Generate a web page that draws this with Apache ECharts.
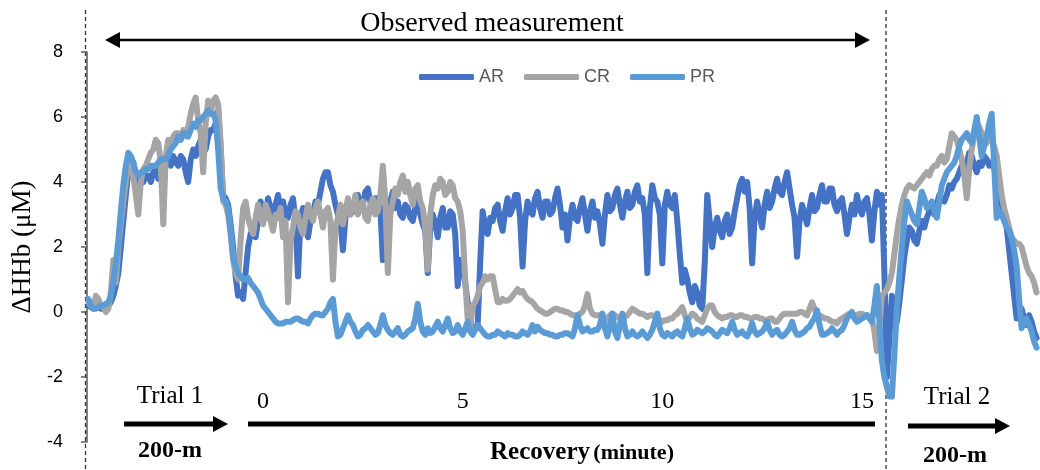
<!DOCTYPE html>
<html><head><meta charset="utf-8">
<script src="https://cdn.jsdelivr.net/npm/echarts@6/dist/echarts.min.js"></script>
<style>html,body{margin:0;padding:0;background:#fff}#c{width:1040px;height:470px}</style>
</head><body><div id="c"></div>
<script>
// sampling grid (minutes relative to start of recovery)
const startMinute = -4.375;
const stepMinute = 0.0625;
const seriesNames = ['AR', 'CR', 'PR'];
const yTicks = [-4, -2, 0, 2, 4, 6, 8];
const recoveryTicks = [0, 5, 10, 15];

const AR = [
  0.2,0.15, 0.1,0.2, 0.15,0.1, 0.1,0.15, 0.2,0.3, 0.5,0.8, 1.2,2.0, 2.8,3.6, 4.3,4.5, 4.6,4.2,
  3.8,4.1, 4.0,4.2, 4.2,4.0, 4.3,4.4, 4.1,4.4, 4.5,4.6, 4.7,4.5, 4.8,4.6, 4.5,4.8, 4.7,4.3,
  4.0,4.7, 5.0,4.8, 5.1,5.3, 5.3,5.0, 5.4,5.6, 5.6,5.8, 6.2,5.0, 3.6,3.5, 3.3,2.7, 2.0,1.1,
  0.5,0.6, 0.4,1.2, 2.0,2.4, 2.6,2.3, 2.8,3.4, 3.2,2.9, 3.5,3.2, 3.0,3.3, 3.6,3.1, 3.4,3.0,
  2.9,3.3, 3.5,2.8, 1.1,2.9, 3.2,2.7, 2.3,2.8, 3.0,3.4, 3.3,3.7, 4.1,4.3, 4.3,3.9, 3.7,3.3,
  3.0,2.8, 1.9,2.9, 3.4,3.0, 3.1,3.5, 3.6,3.2, 3.3,3.7, 3.8,3.4, 3.1,3.5, 3.5,3.2, 1.6,3.0,
  3.0,3.4, 3.7,3.2, 3.4,3.0, 2.9,3.3, 3.2,2.9, 2.8,3.2, 3.4,3.0, 2.7,2.5, 1.2,2.6, 3.0,2.7,
  2.3,2.9, 3.2,2.6, 2.6,3.1, 3.0,2.4, 0.8,1.6, 1.5,0.9, 0.3,-0.3, -0.5,-0.5, -0.4,1.5, 3.1,2.6,
  2.4,2.9, 2.8,3.2, 3.3,2.8, 2.5,3.1, 3.5,3.0, 3.2,3.6, 3.6,2.9, 1.4,2.8, 3.4,3.1, 3.0,3.5,
  3.7,3.2, 2.9,3.4, 3.4,3.0, 3.1,3.5, 3.8,3.3, 2.6,3.0, 2.2,2.9, 3.3,2.9, 2.8,3.2, 3.5,3.0,
  2.5,3.1, 3.4,2.9, 3.1,2.7, 2.1,3.0, 3.6,3.1, 3.2,3.6, 3.8,3.3, 2.9,3.4, 3.7,3.2, 3.3,3.7,
  3.9,3.4, 3.5,3.0, 1.2,3.2, 3.9,3.5, 3.4,3.0, 1.5,3.3, 3.7,3.3, 3.2,3.6, 2.8,1.8, 0.9,1.3,
  1.0,0.6, 0.3,0.8, 0.6,0.2, 0.1,1.5, 3.6,2.8, 2.0,2.6, 2.9,2.5, 2.3,2.8, 3.0,2.4, 2.6,3.1,
  3.5,3.9, 4.1,3.7, 4.0,3.2, 1.5,2.9, 3.4,3.0, 2.6,3.3, 3.7,3.2, 3.4,3.8, 4.1,3.7, 3.6,4.0,
  4.3,3.8, 3.3,2.9, 1.7,2.8, 3.3,3.0, 2.7,3.2, 3.6,3.1, 3.2,3.6, 3.9,3.4, 3.4,3.8, 3.8,3.3,
  3.1,3.4, 3.5,3.0, 2.4,2.9, 3.3,3.0, 3.6,3.2, 3.0,3.4, 3.5,3.0, 2.2,3.1, 3.7,3.3, 3.6,1.2,
  -2.0,-0.8, 0.5,0.1, -0.3,0.3, 1.0,1.7, 2.2,2.6, 2.5,2.2, 2.1,2.5, 2.8,2.6, 2.9,3.1, 3.2,3.0,
  3.3,3.6, 3.5,3.4, 3.6,3.9, 3.8,4.0, 4.1,4.3, 4.5,4.3, 4.6,4.9, 4.8,4.5, 4.3,4.6, 4.5,4.8,
  4.7,4.5, 4.6,4.4, 4.2,3.8, 3.3,3.0, 2.6,1.9, 1.2,0.5, -0.2,-0.1, 0.1,-0.2, -0.4,-0.1, -0.3,-0.6,
  -0.8
];
const CR = [
  0.3,0.2, 0.1,0.5, 0.4,0.2, 0.15,0.0, 0.1,0.6, 1.6,0.9, 2.0,2.7, 3.4,4.0, 4.5,4.6, 4.2,3.6,
  3.0,4.0, 4.4,4.5, 4.7,4.9, 5.0,5.3, 5.2,4.6, 2.7,4.8, 5.3,5.1, 5.4,5.5, 5.5,5.3, 5.6,5.4,
  5.7,6.1, 6.4,6.6, 5.9,5.5, 4.3,5.8, 6.5,6.1, 6.5,6.6, 6.4,5.2, 3.4,3.3, 3.0,2.4, 1.6,1.2,
  1.0,2.2, 3.2,3.4, 2.9,2.6, 2.4,2.9, 3.3,2.9, 2.7,3.3, 3.1,2.8, 2.5,3.0, 2.9,3.2, 2.3,2.8,
  0.3,2.2, 2.6,3.1, 3.0,2.6, 2.4,2.9, 3.3,3.0, 2.8,3.2, 3.4,3.0, 2.6,3.1, 3.2,2.8, 1.0,2.6,
  2.9,3.3, 2.7,3.1, 3.5,3.0, 3.2,3.6, 3.0,3.3, 3.4,2.9, 2.8,3.3, 3.5,3.0, 3.1,3.6, 4.5,3.4,
  1.2,3.0, 3.4,3.8, 3.6,4.0, 4.2,3.7, 4.0,3.6, 3.3,3.8, 3.9,3.4, 3.2,2.6, 1.3,3.0, 3.6,3.9,
  3.8,4.1, 4.0,3.6, 3.7,4.0, 3.9,3.5, 3.4,3.1, 2.5,1.0, -0.2,-0.5, 0.2,0.3, 0.5,0.8, 0.9,1.1,
  1.0,1.1, 1.1,0.7, 0.3,0.3, 0.4,0.35, 0.35,0.4, 0.5,0.6, 0.7,0.6, 0.65,0.5, 0.4,0.35, 0.3,0.2,
  0.1,0.05, 0.0,-0.05, -0.05,0.0, 0.05,0.1, 0.1,0.05, 0.05,0.0, 0.0,-0.05, -0.1,-0.1, -0.15,-0.05, 0.0,0.2,
  0.55,0.1, -0.05,-0.1, -0.1,-0.1, -0.15,-0.2, -0.2,-0.1, -0.05,-0.1, -0.15,-0.2, -0.25,-0.15, -0.1,0.0, 0.1,0.05,
  0.0,-0.05, -0.05,-0.1, -0.15,-0.1, -0.1,-0.15, -0.2,-0.25, -0.3,-0.25, -0.25,-0.2, -0.2,-0.1, -0.05,0.05, 0.15,-0.1,
  -0.3,-0.15, -0.05,-0.1, -0.2,-0.25, -0.3,-0.1, 0.1,0.2, 0.2,0.0, -0.1,-0.15, -0.2,-0.15, -0.15,-0.1, -0.1,-0.15,
  -0.15,-0.1, -0.1,-0.15, -0.15,-0.2, -0.2,-0.15, -0.15,-0.2, -0.2,-0.25, -0.25,-0.2, -0.2,-0.3, -0.3,-0.2, -0.1,-0.05,
  -0.05,-0.05, -0.05,-0.05, -0.05,0.0, 0.0,-0.05, -0.1,0.1, 0.3,0.1, -0.1,-0.1, -0.15,-0.2, -0.2,-0.25, -0.3,-0.3,
  -0.35,-0.25, -0.2,-0.15, -0.1,-0.05, -0.05,-0.1, -0.1,-0.05, -0.05,-0.1, -0.1,-0.15, -0.2,-0.6, -1.2,-0.5, 0.5,0.6,
  0.7,0.9, 1.2,1.8, 2.4,2.9, 3.3,3.6, 3.8,3.9, 3.85,3.8, 3.9,4.0, 4.1,4.2, 4.3,4.2, 4.4,4.5,
  4.5,4.7, 4.8,4.6, 4.7,5.1, 5.5,5.4, 5.3,5.0, 4.7,4.2, 3.5,4.4, 5.0,5.4, 5.6,5.7, 5.5,5.3,
  5.2,5.4, 5.3,5.1, 4.8,4.2, 3.6,3.2, 2.9,2.6, 2.3,2.2, 2.1,2.1, 2.0,1.7, 1.4,1.2, 1.1,0.9,
  0.6
];
const PR = [
  0.4,0.2, 0.1,0.1, 0.15,0.2, 0.2,0.25, 0.3,0.5, 0.9,1.5, 2.2,3.1, 3.9,4.5, 4.9,4.8, 4.6,4.3,
  4.2,4.3, 4.3,4.4, 4.4,4.5, 4.5,4.5, 4.6,4.7, 4.7,4.7, 4.8,5.0, 5.1,5.2, 5.4,5.3, 5.5,5.5,
  5.4,5.6, 5.8,5.7, 5.9,5.9, 6.0,6.1, 6.2,6.1, 6.1,5.9, 5.0,3.8, 3.5,3.4, 3.2,2.5, 1.7,1.4,
  1.2,1.1, 1.0,1.0, 1.05,0.9, 0.8,0.7, 0.6,0.4, 0.2,0.1, 0.0,-0.1, -0.2,-0.3, -0.35,-0.35, -0.35,-0.3,
  -0.3,-0.3, -0.25,-0.2, -0.2,-0.25, -0.3,-0.3, -0.35,-0.2, -0.1,-0.05, -0.05,-0.1, -0.1,0.0, 0.1,0.3, 0.4,-0.3,
  -0.75,-0.7, -0.5,-0.3, -0.1,-0.3, -0.4,-0.6, -0.75,-0.7, -0.55,-0.5, -0.4,-0.5, -0.6,-0.7, -0.65,-0.4, -0.1,-0.4,
  -0.55,-0.65, -0.7,-0.6, -0.5,-0.7, -0.75,-0.7, -0.6,-0.55, -0.5,-0.2, 0.25,-0.3, -0.6,-0.7, -0.5,-0.65, -0.6,-0.45,
  -0.3,-0.5, -0.6,-0.4, -0.2,-0.5, -0.65,-0.6, -0.4,-0.6, -0.7,-0.5, -0.3,-0.6, -0.7,-0.55, -0.4,-0.5, -0.6,-0.7,
  -0.75,-0.75, -0.7,-0.7, -0.6,-0.65, -0.7,-0.75, -0.65,-0.7, -0.7,-0.75, -0.75,-0.7, -0.6,-0.65, -0.7,-0.6, -0.4,-0.6,
  -0.45,-0.55, -0.6,-0.65, -0.65,-0.7, -0.7,-0.75, -0.75,-0.7, -0.7,-0.65, -0.65,-0.7, -0.75,-0.5, -0.1,-0.4, -0.6,-0.55,
  -0.5,-0.6, -0.6,-0.55, -0.55,-0.4, -0.05,-0.5, -0.75,-0.4, -0.05,-0.6, -0.8,-0.4, -0.05,-0.5, -0.75,-0.7, -0.6,-0.7,
  -0.75,-0.7, -0.6,-0.7, -0.8,-0.7, -0.55,-0.3, -0.05,-0.5, -0.7,-0.75, -0.65,-0.7, -0.75,-0.65, -0.6,-0.7, -0.75,-0.5,
  -0.2,-0.5, -0.7,-0.65, -0.55,-0.6, -0.65,-0.6, -0.5,-0.55, -0.6,-0.7, -0.75,-0.65, -0.55,-0.6, -0.65,-0.5, -0.3,-0.55,
  -0.7,-0.65, -0.6,-0.7, -0.75,-0.6, -0.35,-0.6, -0.7,-0.65, -0.6,-0.5, -0.3,-0.55, -0.7,-0.6, -0.55,-0.7, -0.75,-0.7,
  -0.6,-0.5, -0.3,-0.55, -0.7,-0.7, -0.65,-0.6, -0.5,-0.45, -0.3,-0.2, 0.05,-0.4, -0.7,-0.7, -0.65,-0.6, -0.5,-0.6,
  -0.7,-0.6, -0.55,-0.4, -0.2,-0.1, 0.0,-0.2, -0.3,-0.25, -0.2,-0.15, -0.1,-0.2, -0.3,0.2, 0.8,-0.3, -1.5,-2.0,
  -2.3,-2.6, -2.6,-1.3, 0.1,1.1, 2.0,2.8, 3.4,3.2, 3.0,2.8, 2.7,3.2, 3.7,3.5, 3.2,3.3, 3.4,3.1,
  2.9,3.4, 3.9,4.1, 4.3,4.4, 4.5,4.6, 4.8,5.1, 5.3,5.4, 5.5,5.3, 5.2,5.6, 6.0,5.4, 4.8,5.1,
  5.4,5.8, 6.1,4.5, 2.9,3.1, 3.0,2.8, 2.6,2.5, 2.3,1.9, 1.4,0.4, -0.5,-0.3, -0.2,-0.4, -0.6,-0.9,
  -1.1
];

const colors = { AR: '#4472C4', CR: '#A5A5A5', PR: '#5B9BD5' };
const dataByName = { AR: AR, CR: CR, PR: PR };
function toPairs(vals) { return vals.map((v, i) => [startMinute + i * stepMinute, v]); }

const serif = '"Liberation Serif","Times New Roman",serif';
const sans = '"Liberation Sans",Arial,sans-serif';

function arrowHead(tipX, y, dir) {
  const L = 15, H = 8;
  return { type: 'polygon', silent: true,
    shape: { points: [[tipX, y], [tipX - dir * L, y - H], [tipX - dir * L, y + H]] },
    style: { fill: '#000' } };
}
function hline(x1, x2, y, w) {
  return { type: 'line', silent: true, shape: { x1: x1, y1: y, x2: x2, y2: y }, style: { stroke: '#000', lineWidth: w } };
}
function vdash(x) {
  return { type: 'line', silent: true, shape: { x1: x, y1: 10, x2: x, y2: 470 },
    style: { stroke: '#333', lineWidth: 1.3, lineDash: [4, 3] } };
}
function label(text, x, y, font) {
  return { type: 'text', silent: true, x: x, y: y,
    style: { text: text, font: font, fill: '#000', align: 'center', verticalAlign: 'middle' } };
}

const chart = echarts.init(document.getElementById('c'), null, { renderer: 'canvas' });
chart.setOption({
  animation: false,
  backgroundColor: '#fff',
  grid: { left: 87, right: 0, top: 52, bottom: 28, containLabel: false },
  legend: {
    data: seriesNames, left: 414, top: 63, icon: 'roundRect', itemWidth: 55, itemHeight: 6, itemGap: 20,
    textStyle: { fontFamily: sans, fontSize: 18, color: '#595959' }
  },
  xAxis: {
    type: 'value', min: -4.41, max: 19.46, offset: -40,
    axisLine: { show: false }, axisTick: { show: false }, splitLine: { show: false },
    axisLabel: { customValues: recoveryTicks, margin: 0, verticalAlign: 'middle',
      fontFamily: serif, fontSize: 24, color: '#000' }
  },
  yAxis: {
    type: 'value', min: yTicks[0], max: yTicks[yTicks.length - 1], interval: 2,
    name: 'ΔHHb (μM)', nameLocation: 'middle', nameGap: 50, nameRotate: 90,
    nameTextStyle: { fontFamily: serif, fontSize: 27, color: '#000' },
    axisLine: { show: true, onZero: false, lineStyle: { color: '#595959', width: 1.5 } },
    axisTick: { show: true, inside: false, length: 6, lineStyle: { color: '#595959', width: 1.5 } },
    splitLine: { show: false },
    axisLabel: { margin: 24, fontFamily: sans, fontSize: 18, color: '#000' }
  },
  series: seriesNames.map(n => ({
    name: n, type: 'line', data: toPairs(dataByName[n]), showSymbol: false, symbol: 'none',
    itemStyle: { color: colors[n] },
    lineStyle: { color: colors[n], width: 6, cap: 'round', join: 'round' }
  })),
  graphic: [
    vdash(85.5), vdash(886),
    label('Observed measurement', 492, 24, '28px ' + serif),
    hline(118, 857, 40, 2.5), arrowHead(105, 40, -1), arrowHead(870, 40, 1),
    label('Trial 1', 170, 396, '25px ' + serif),
    hline(124, 214, 424, 5), arrowHead(228, 424, 1),
    label('200-m', 170, 451, 'bold 24px ' + serif),
    hline(248, 875, 424, 5),
    { type: 'text', silent: true, x: 582, y: 453,
      style: { text: '{a|Recovery} {b|(minute)}', align: 'center', verticalAlign: 'middle',
        rich: { a: { font: 'bold 25px ' + serif, fill: '#000' }, b: { font: 'bold 22px ' + serif, fill: '#000' } } } },
    label('Trial 2', 957, 397, '25px ' + serif),
    hline(908, 996, 426, 5), arrowHead(1010, 426, 1),
    label('200-m', 955, 456, 'bold 24px ' + serif)
  ]
});
</script>
</body></html>
